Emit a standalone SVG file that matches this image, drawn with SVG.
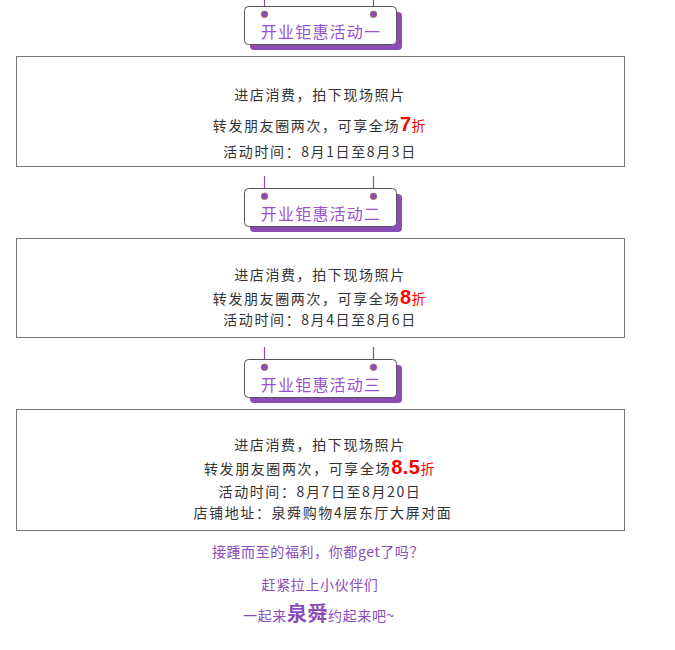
<svg xmlns="http://www.w3.org/2000/svg" width="675" height="650" viewBox="0 0 675 650">
<defs>
<style>
.box{fill:#fff;stroke:#777;stroke-width:1}
.shadow{fill:#8b4cb8}
.tag{fill:#fff;stroke:#555;stroke-width:1}
.hang{stroke:#8b4cb8;stroke-width:1.2}
.dot{fill:#8b4cb8;stroke:#a0704a;stroke-width:0.8}
.tt{font-family:"Noto Sans CJK SC","Liberation Sans",sans-serif;font-size:16px;fill:#9b50d0;text-anchor:middle;letter-spacing:1.2px}
.bt{font-family:"Noto Sans CJK SC","Liberation Sans",sans-serif;font-size:14px;fill:#333;text-anchor:middle;letter-spacing:1.6px}
.red{fill:#ff0000}
.big{font-family:"Liberation Sans",sans-serif;font-weight:bold;font-size:20px;letter-spacing:0.5px}
.ft{font-family:"Noto Sans CJK SC","Liberation Sans",sans-serif;font-size:14px;fill:#8b4cb8;text-anchor:middle;letter-spacing:0.6px}
</style>
<g id="badge">
<line class="hang" x1="264.5" y1="0" x2="264.5" y2="14"/>
<line class="hang" x1="373.5" y1="0" x2="373.5" y2="14"/>
<rect class="shadow" x="250" y="12" width="152" height="38" rx="4"/>
<rect class="tag" x="244.5" y="6.5" width="152" height="38" rx="4"/>
<circle class="dot" cx="264.5" cy="14.3" r="3.3"/>
<circle class="dot" cx="373.5" cy="14.3" r="3.3"/>
</g>
<g id="badgeh">
<line class="hang" x1="264.5" y1="-6" x2="264.5" y2="14"/>
<line class="hang" x1="373.5" y1="-6" x2="373.5" y2="14"/>
<rect class="shadow" x="250" y="12" width="152" height="38" rx="4"/>
<rect class="tag" x="244.5" y="6.5" width="152" height="38" rx="4"/>
<circle class="dot" cx="264.5" cy="14.3" r="3.3"/>
<circle class="dot" cx="373.5" cy="14.3" r="3.3"/>
</g>
</defs>
<rect width="675" height="650" fill="#fff"/>

<g id="node-badge1">
<use href="#badge"/>
<text class="tt" x="321" y="38">开业钜惠活动一</text>
</g>
<g id="node-box1">
<rect class="box" x="16.5" y="56.5" width="608" height="110"/>
<text class="bt" x="320" y="100">进店消费，拍下现场照片</text>
<text class="bt" x="320" y="131">转发朋友圈两次，可享全场<tspan class="red big">7</tspan><tspan class="red">折</tspan></text>
<text class="bt" x="320" y="157">活动时间：8月1日至8月3日</text>
</g>

<g id="node-badge2" transform="translate(0,182)">
<use href="#badgeh"/>
<text class="tt" x="321" y="38">开业钜惠活动二</text>
</g>
<g id="node-box2">
<rect class="box" x="16.5" y="238.5" width="608" height="99"/>
<text class="bt" x="320" y="280">进店消费，拍下现场照片</text>
<text class="bt" x="320" y="304">转发朋友圈两次，可享全场<tspan class="red big">8</tspan><tspan class="red">折</tspan></text>
<text class="bt" x="320" y="325">活动时间：8月4日至8月6日</text>
</g>

<g id="node-badge3" transform="translate(0,353)">
<use href="#badgeh"/>
<text class="tt" x="321" y="38">开业钜惠活动三</text>
</g>
<g id="node-box3">
<rect class="box" x="16.5" y="409.5" width="608" height="121"/>
<text class="bt" x="320" y="450">进店消费，拍下现场照片</text>
<text class="bt" x="320" y="474">转发朋友圈两次，可享全场<tspan class="red big">8.5</tspan><tspan class="red">折</tspan></text>
<text class="bt" x="320" y="497">活动时间：8月7日至8月20日</text>
<text class="bt" x="323" y="518">店铺地址：泉舜购物4层东厅大屏对面</text>
</g>

<g id="connectors"></g>

<g id="footer">
<text class="ft" x="318" y="557">接踵而至的福利，你都get了吗？</text>
<text class="ft" x="320" y="590">赶紧拉上小伙伴们</text>
<text class="ft" x="319" y="621">一起来<tspan font-size="20px" font-weight="bold">泉舜</tspan>约起来吧~</text>
</g>
</svg>
